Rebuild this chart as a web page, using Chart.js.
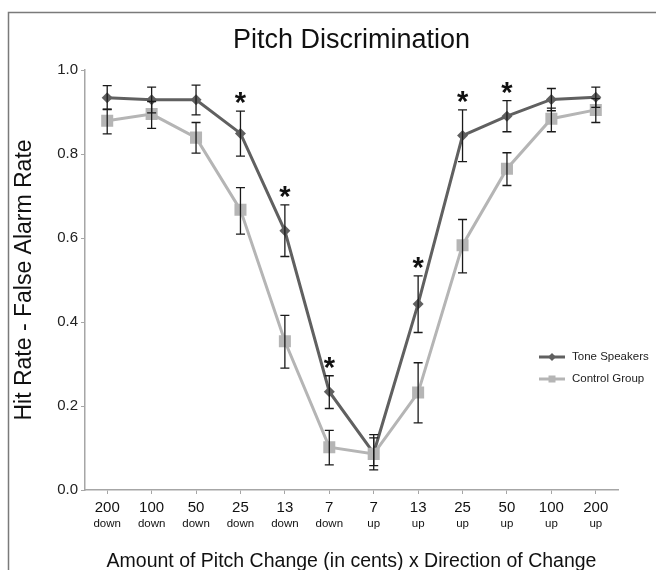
<!DOCTYPE html>
<html lang="en">
<head>
  <meta charset="UTF-8">
  <title>Pitch Discrimination</title>
  <script src="https://cdn.jsdelivr.net/npm/chart.js"></script>
  <style>
    body {
      margin: 0;
      background-color: white;
    }
    canvas {
      display: block;
    }
  </style>
</head>
<body>
  <canvas id="myChart" width="656" height="570"></canvas>

  <script>
    // categories: amount of change (cents) and direction
    const amounts = ['200', '100', '50', '25', '13', '7', '7', '13', '25', '50', '100', '200'];
    const directions = ['down', 'down', 'down', 'down', 'down', 'down', 'up', 'up', 'up', 'up', 'up', 'up'];

    // Tone Speakers: mean, error bar top, error bar bottom
    const toneMeans = [0.934, 0.929, 0.929, 0.849, 0.617, 0.234, 0.088, 0.443, 0.844, 0.890, 0.930, 0.935];
    const toneUpper = [0.963, 0.959, 0.964, 0.902, 0.679, 0.272, 0.132, 0.510, 0.905, 0.927, 0.956, 0.959];
    const toneLower = [0.907, 0.898, 0.893, 0.795, 0.556, 0.194, 0.058, 0.375, 0.782, 0.853, 0.903, 0.911];

    // Control Group
    const controlMeans = [0.879, 0.895, 0.839, 0.667, 0.354, 0.102, 0.086, 0.232, 0.583, 0.765, 0.884, 0.905];
    const controlUpper = [0.906, 0.925, 0.875, 0.720, 0.416, 0.142, 0.124, 0.303, 0.644, 0.803, 0.909, 0.932];
    const controlLower = [0.848, 0.861, 0.802, 0.609, 0.290, 0.060, 0.048, 0.160, 0.517, 0.725, 0.853, 0.875];

    // categories marked with an asterisk
    const significant = [3, 4, 5, 7, 8, 9];

    const yTicks = [0, 0.2, 0.4, 0.6, 0.8, 1.0];

    const FONT = "'Liberation Sans', Arial, sans-serif";
    const toneColor = '#606060';
    const controlColor = '#b5b5b5';

    const labels = amounts.map((a, i) => a + ' ' + directions[i]);

    const decorations = {
      id: 'decorations',
      beforeDraw(chart) {
        const ctx = chart.ctx;
        ctx.save();
        ctx.fillStyle = 'white';
        ctx.fillRect(0, 0, chart.width, chart.height);
        // frame (left and top edges visible)
        ctx.strokeStyle = '#7a7a7a';
        ctx.lineWidth = 1.5;
        ctx.beginPath();
        ctx.moveTo(8.5, chart.height);
        ctx.lineTo(8.5, 12.5);
        ctx.lineTo(chart.width, 12.5);
        ctx.stroke();
        ctx.restore();
      },
      afterDatasetsDraw(chart) {
        const ctx = chart.ctx;
        const y = chart.scales.y;
        const bars = [[toneUpper, toneLower], [controlUpper, controlLower]];
        ctx.save();
        ctx.strokeStyle = '#1a1a1a';
        ctx.lineWidth = 1.3;
        bars.forEach(([up, lo], d) => {
          const meta = chart.getDatasetMeta(d);
          meta.data.forEach((pt, i) => {
            const x = pt.x;
            const yt = y.getPixelForValue(up[i]);
            const yb = y.getPixelForValue(lo[i]);
            ctx.beginPath();
            ctx.moveTo(x, yt); ctx.lineTo(x, yb);
            ctx.moveTo(x - 4.5, yt); ctx.lineTo(x + 4.5, yt);
            ctx.moveTo(x - 4.5, yb); ctx.lineTo(x + 4.5, yb);
            ctx.stroke();
          });
        });
        // asterisks above the tone speakers error bars
        ctx.fillStyle = '#111';
        ctx.font = 'bold 29px ' + FONT;
        ctx.textAlign = 'center';
        ctx.textBaseline = 'alphabetic';
        const meta = chart.getDatasetMeta(0);
        significant.forEach(i => {
          const x = meta.data[i].x;
          const top = y.getPixelForValue(toneUpper[i]);
          ctx.fillText('*', x, top + 1);
        });
        ctx.restore();
      },
      afterDraw(chart) {
        const ctx = chart.ctx;
        const area = chart.chartArea;
        const x = chart.scales.x;
        const cx = (area.left + area.right) / 2;
        ctx.save();
        ctx.fillStyle = '#111';
        ctx.textAlign = 'center';
        ctx.textBaseline = 'alphabetic';

        ctx.font = '27px ' + FONT;
        ctx.fillText('Pitch Discrimination', cx, 48);

        amounts.forEach((a, i) => {
          const px = x.getPixelForValue(i);
          ctx.font = '15px ' + FONT;
          ctx.fillText(a, px, 512);
          ctx.font = '11.5px ' + FONT;
          ctx.fillText(directions[i], px, 527);
        });

        ctx.font = '19.5px ' + FONT;
        ctx.fillText('Amount of Pitch Change (in cents) x Direction of Change', cx, 567);

        // legend
        const items = [
          { text: 'Tone Speakers', color: toneColor, y: 357, diamond: true },
          { text: 'Control Group', color: controlColor, y: 379, diamond: false }
        ];
        items.forEach(it => {
          ctx.strokeStyle = it.color;
          ctx.fillStyle = it.color;
          ctx.lineWidth = 3;
          ctx.beginPath();
          ctx.moveTo(539, it.y); ctx.lineTo(565, it.y);
          ctx.stroke();
          ctx.beginPath();
          if (it.diamond) {
            ctx.moveTo(552, it.y - 4); ctx.lineTo(556, it.y);
            ctx.lineTo(552, it.y + 4); ctx.lineTo(548, it.y);
            ctx.closePath();
          } else {
            ctx.rect(548.5, it.y - 3.5, 7, 7);
          }
          ctx.fill();
          ctx.fillStyle = '#222';
          ctx.font = '11.5px ' + FONT;
          ctx.textAlign = 'left';
          ctx.textBaseline = 'middle';
          ctx.fillText(it.text, 572, it.y);
        });
        ctx.restore();
      }
    };

    const ctx = document.getElementById('myChart').getContext('2d');

    new Chart(ctx, {
      type: 'line',
      data: {
        labels: labels,
        datasets: [{
          label: 'Tone Speakers',
          data: toneMeans,
          borderColor: toneColor,
          backgroundColor: toneColor,
          borderWidth: 3,
          pointStyle: 'rectRot',
          pointRadius: 5.5,
          pointBorderWidth: 0,
          tension: 0,
          order: 2
        }, {
          label: 'Control Group',
          data: controlMeans,
          borderColor: controlColor,
          backgroundColor: controlColor,
          borderWidth: 3,
          pointStyle: 'rect',
          pointRadius: 8.5,
          pointBorderWidth: 0,
          tension: 0,
          order: 1
        }]
      },
      options: {
        responsive: false,
        animation: false,
        devicePixelRatio: 1,
        layout: {
          padding: { top: 70, right: 38, bottom: 0, left: 0 }
        },
        plugins: {
          legend: { display: false },
          title: { display: false },
          tooltip: { enabled: false }
        },
        scales: {
          x: {
            type: 'category',
            offset: true,
            afterFit(scale) { scale.height = 80; },
            grid: {
              drawOnChartArea: false,
              color: '#a6a6a6',
              tickLength: 4
            },
            border: { color: '#a6a6a6', width: 1.5 },
            ticks: { display: false }
          },
          y: {
            min: 0,
            max: 1,
            afterFit(scale) { scale.width = 85; },
            afterBuildTicks(scale) {
              scale.ticks = yTicks.map(v => ({ value: v }));
            },
            grid: {
              drawOnChartArea: false,
              color: '#a6a6a6',
              tickLength: 4
            },
            border: { color: '#a6a6a6', width: 1.5 },
            ticks: {
              color: '#222',
              padding: 3,
              font: { family: FONT, size: 15 },
              callback: v => v.toFixed(1)
            },
            title: {
              display: true,
              text: 'Hit Rate - False Alarm Rate',
              color: '#111',
              font: { family: FONT, size: 23 },
              padding: { top: 11, bottom: 0 }
            }
          }
        }
      },
      plugins: [decorations]
    });
  </script>
</body>
</html>
